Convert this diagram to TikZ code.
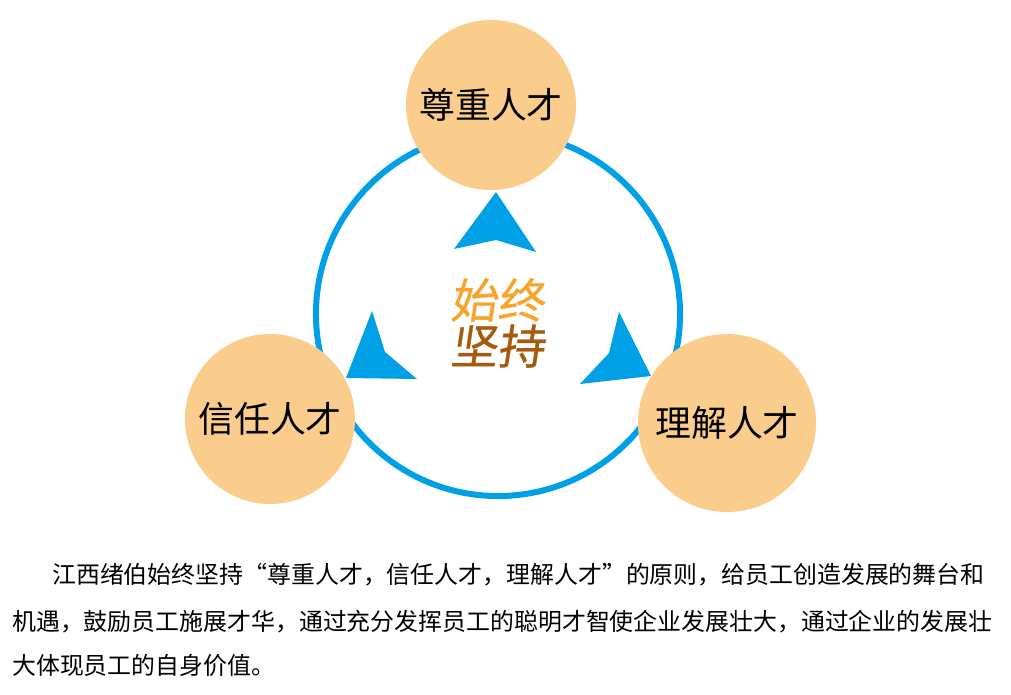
\documentclass[tikz,border=0pt]{standalone}
\usepackage{fontspec}
\newfontfamily\cjk{Noto Sans CJK SC}
\newfontfamily\cjkslant[FakeSlant=0.15, FakeBold=0.6]{Noto Sans CJK SC}
\definecolor{ringblue}{HTML}{00A0E6}
\definecolor{talentfill}{HTML}{FACD8C}
\definecolor{startorange}{HTML}{F8A42C}
\definecolor{holdbrown}{HTML}{A65A0E}
\tikzset{
  talent/.style={circle, fill=talentfill, inner sep=0pt, font=\cjk\fontsize{25.5}{30}\selectfont},
  motto/.style={inner sep=0pt, font=\cjkslant\fontsize{33.5}{38}\selectfont},
  dart/.style={fill=ringblue},
  para/.style={inner sep=0pt, anchor=west, font=\cjk\fontsize{17}{20}\selectfont}
}
\begin{document}
\begin{tikzpicture}[x=0.025cm, y=-0.025cm]
    \useasboundingbox (0,0) rectangle (1011,695);
    \draw[ringblue, line width=4.25pt] (498,314) circle [radius=4.55cm];

    % three darts
    \fill[dart] (496,192) -- (536,252) -- (496,240) -- (454,249) -- cycle;
    \fill[dart] (372,311) -- (385,352) -- (417,379) -- (346,378) -- cycle;
    \fill[dart] (619,312) -- (651,376) -- (580,384) -- (609,353) -- cycle;

    \node[talent, minimum size=4.25cm] (respect) at (491,105) {尊重人才};
    \node[talent, minimum size=4.25cm] (trust) at (270,419) {信任人才};
    \node[talent, minimum size=4.45cm] (understand) at (727,423) {理解人才};

    \node[motto, text=startorange] (always) at (497,300) {始终};
    \node[motto, text=holdbrown] (hold) at (497,346) {坚持};

    \node[para] (line1) at (52,575) {江西绪伯始终坚持“尊重人才，信任人才，理解人才”的原则，给员工创造发展的舞台和};
    \node[para] (line2) at (12,622) {机遇，鼓励员工施展才华，通过充分发挥员工的聪明才智使企业发展壮大，通过企业的发展壮};
    \node[para] (line3) at (12,665) {大体现员工的自身价值。};

\end{tikzpicture}
\end{document}
